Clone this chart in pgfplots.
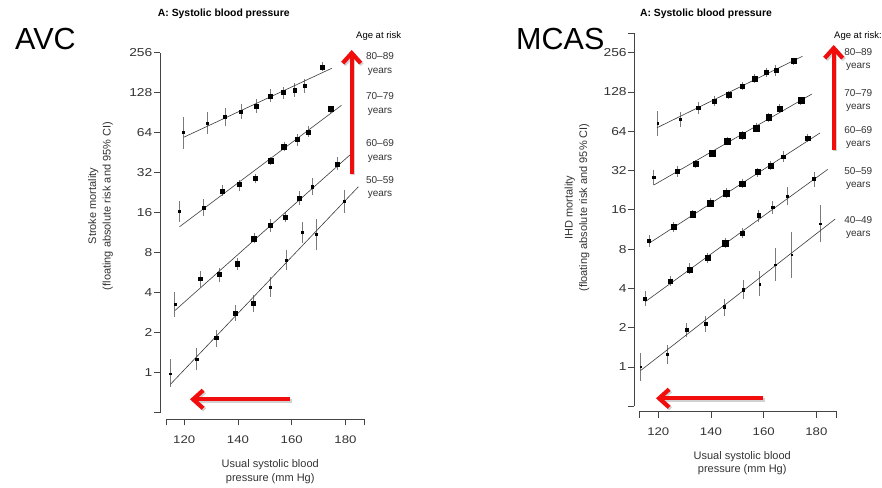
\documentclass[border=0pt]{standalone}
\usepackage{pgfplots}
\pgfplotsset{compat=1.18}
\usepackage{pgfplotstable}
\usepackage{graphicx}
\usepackage{fontspec}
\setmainfont{Liberation Sans}
\usetikzlibrary{arrows.meta}
\definecolor{axgray}{HTML}{444444}
\definecolor{errgray}{HTML}{7A7A7A}
\definecolor{linegray}{HTML}{3A3A3A}
\definecolor{arrred}{HTML}{F20D0D}
\newcommand{\wt}[1]{\scalebox{1.2}[1]{#1}}

% columns: x = usual SBP, y = mortality, lo/hi = 95% CI, s = half side of marker (pt)
\pgfplotstableread{
x y lo hi s
119.8 64 48 84.4 1
128.7 76 62.2 92.1 1
135.2 84.4 72.3 98.7 1.5
141.2 92 80.7 104.7 1.5
146.8 102 90.5 114.2 2
152.1 121 108.4 135.8 2
156.8 128 115.4 141 2
161.0 134 118.6 150.7 1.7
164.9 145 127 163 1.5
171.4 199 186 218 2.2
}\LA
\pgfplotstableread{
x y lo hi s
118.3 16.3 13.5 19.6 1
127.2 17.6 15.1 20.2 1.5
134.1 23.2 21.4 25.7 2
140.4 26.2 23.4 28.2 2.2
146.4 29.2 26.9 31.3 2.2
152.0 39.7 36.5 42.2 2.5
157.2 50.6 46.5 54.8 2.5
162.0 57 51.1 62.6 2.2
166.2 65 59.1 72 2
174.5 96.5 90.5 101.8 2.7
}\LB
\pgfplotstableread{
x y lo hi s
116.5 3.25 2.64 4.03 1
125.9 5.1 4.44 5.8 1.7
133.0 5.5 4.84 6.15 2
139.7 6.6 5.9 7.26 2.2
146.0 10.2 9.4 11.3 2.5
152.0 12.9 11.5 14.3 2.2
157.5 14.8 13.5 16.2 2
162.9 20.7 18.3 23.4 2
167.7 25.1 21.7 29 1.2
177.1 37.4 33.6 41.8 2
}\LC
\pgfplotstableread{
x y lo hi s
114.9 0.98 0.785 1.27 0.8
124.6 1.27 1.05 1.53 1.2
131.9 1.83 1.57 2.1 1.7
139.0 2.81 2.46 3.23 2.2
145.6 3.33 2.85 3.84 1.7
152.0 4.41 3.73 5.28 1.3
157.9 7.05 5.94 8.4 1.2
163.9 11.4 9.4 13.7 1
169.2 11.0 8.4 14.4 0.8
179.5 19.5 16 23.7 0.8
}\LD
\pgfplotstableread{
x y lo hi s
119.8 73.6 58.9 91.5 0.7
128.5 79.4 68.6 90.3 1
135.2 97 86.3 107.8 1.7
141.2 109 99.9 119.2 1.7
146.7 122 112.3 130.8 2.3
151.9 142 132.5 151.7 2.3
156.6 163 150.7 174.8 2.5
160.9 181 167.7 194 2.3
164.6 187 170 206.5 2
171.3 221 208 234 2.5
}\RA
\pgfplotstableread{
x y lo hi s
118.3 28.4 24.8 32.3 1.3
127.2 31.6 28.7 34.7 1.7
134.1 36 33.4 38.6 2.3
140.4 43.4 40.5 45.9 3
146.2 53.8 49.9 58.1 3
151.9 59.6 54.9 64 3
157.1 68 62.7 73.5 3
161.9 81.8 75.6 87.7 2.8
166.1 95 87.7 102.9 2.5
174.1 110 101.8 117.8 3
}\RB
\pgfplotstableread{
x y lo hi s
116.5 9.28 8.28 10.3 1.5
125.8 11.9 10.9 13 2.2
133.1 14.8 13.8 16.1 2.8
139.6 18 16.7 19.6 3
145.8 21.5 19.6 23.4 3
151.8 25.4 23.4 27.4 2.8
157.6 31.2 28.7 33.6 2.5
162.7 35 32.3 37.8 2.2
167.5 41 37.4 45.2 1.8
176.7 56.5 53.3 61 2.3
}\RC
\pgfplotstableread{
x y lo hi s
115.0 3.32 2.93 3.8 1.5
124.6 4.56 4.17 4.98 1.8
131.8 5.6 5.17 6.23 2.5
138.8 6.87 6.3 7.5 2.8
145.4 8.87 8.1 9.68 2.7
151.9 10.6 9.68 11.55 2.2
158.0 14.6 13 16 1.7
163.4 16.7 14.9 18.7 1.2
169.0 20.4 17.4 23.8 1
179.1 27.6 24.1 31.3 1.5
}\RD
\pgfplotstableread{
x y lo hi s
113.3 1.0 0.78 1.27 0.6
123.3 1.25 1.05 1.47 1
130.8 1.92 1.69 2.16 1.5
138.0 2.15 1.87 2.46 1.5
145.1 2.9 2.47 3.3 1.2
152.2 3.91 3.32 4.64 1.2
158.5 4.3 3.48 5.44 0.8
164.4 6.1 4.56 8.1 0.7
170.5 7.3 4.83 10.9 0.5
181.4 12.5 9.1 17.4 0.6
}\RE

\newcommand{\pts}[1]{\addplot[only marks, mark=square*, black, scatter,
    scatter/use mapped color={draw=black,fill=black},
    visualization depends on={\thisrow{s} \as \msz},
    scatter/@pre marker code/.append style={/tikz/mark size=\msz},
    error bars/y dir=both, error bars/y explicit, error bars/error mark=none,
    error bars/error bar style={line width=0.8pt, color=errgray}]
  table[x=x, y=y, y error plus expr=\thisrow{hi}-\thisrow{y}, y error minus expr=\thisrow{y}-\thisrow{lo}] {#1};}
\newcommand{\regl}{\addplot[no markers, color=linegray, line width=0.6pt]}

\begin{document}
\begin{tikzpicture}[x=1pt,y=1pt]
% ---------------- Left panel: stroke ----------------
\begin{axis}[scale only axis, at={(166.7pt,74.3pt)}, anchor=south west, clip=false,
  width=197.6pt, height=360pt,
  xmin=113.5, xmax=187, ymin=0.5, ymax=256,
  ymode=log, log basis y=2,
  axis lines=left, axis line style={-, draw=axgray, line width=0.8pt},
  axis x line shift=6.6pt, axis y line shift=6.7pt,
  tick style={draw=axgray, line width=0.8pt}, tick align=outside,
  major tick length=6pt, yminorticks=false, xminorticks=false,
  yticklabel style={font=\fontsize{11.5}{12}\selectfont, text=black!80, inner sep=1.5pt},
  xticklabel style={font=\fontsize{11}{12}\selectfont, text=black!80, yshift=-7pt},
  xtick={113.5,120,140,160,180,187}, xticklabels={,\wt{120},\wt{140},\wt{160},\wt{180},},
  ytick={0.5,1,2,4,8,16,32,64,128,256}, yticklabels={,\wt{1},\wt{2},\wt{4},\wt{8},\wt{16},\wt{32},\wt{64},\wt{128},\wt{256}}]
\pts{\LA}
\pts{\LB}
\pts{\LC}
\pts{\LD}
\regl coordinates {(119.8,59.1) (174.9,195.4)};
\regl coordinates {(118.3,12.55) (178.5,102.9)};
\regl coordinates {(116.5,2.93) (181.6,43.4)};
\regl coordinates {(114.9,0.818) (184.8,25.1)};
\end{axis}
% ---------------- Right panel: IHD ----------------
\begin{axis}[scale only axis, at={(639.3pt,80.7pt)}, anchor=south west, clip=false,
  width=197.4pt, height=373.2pt,
  xmin=112.8, xmax=187.7, ymin=0.5, ymax=362.04,
  ymode=log, log basis y=2,
  axis lines=left, axis line style={-, draw=axgray, line width=0.8pt},
  axis x line shift=5.4pt, axis y line shift=5pt,
  tick style={draw=axgray, line width=0.8pt}, tick align=outside,
  major tick length=6pt, yminorticks=false, xminorticks=false,
  yticklabel style={font=\fontsize{11.5}{12}\selectfont, text=black!80, inner sep=1.5pt},
  xticklabel style={font=\fontsize{11}{12}\selectfont, text=black!80, yshift=-7pt},
  xtick={112.8,120,140,160,180,187.7}, xticklabels={,\wt{120},\wt{140},\wt{160},\wt{180},},
  ytick={0.5,1,2,4,8,16,32,64,128,256,362.04}, yticklabels={,\wt{1},\wt{2},\wt{4},\wt{8},\wt{16},\wt{32},\wt{64},\wt{128},\wt{256},}]
\pts{\RA}
\pts{\RB}
\pts{\RC}
\pts{\RD}
\pts{\RE}
\regl coordinates {(119.5,68.1) (174.7,240.5)};
\regl coordinates {(118.3,24.8) (178.3,123.6)};
\regl coordinates {(116.5,8.88) (181.4,62.2)};
\regl coordinates {(115,3.16) (184.3,32.7)};
\regl coordinates {(113.3,0.94) (187.1,13.6)};
\end{axis}

% ---------------- Texts ----------------
\node[anchor=base west, font=\fontsize{30.5}{32}\selectfont] at (11.7,437) {AVC};
\node[anchor=base west, font=\fontsize{30.5}{32}\selectfont] at (512.7,437) {MCAS};
\node[font=\bfseries\fontsize{10.4}{12}\selectfont] at (223.8,473.5) {A: Systolic blood pressure};
\node[font=\bfseries\fontsize{10.4}{12}\selectfont] at (706,473) {A: Systolic blood pressure};
\begin{scope}
\clip (340,440) rectangle (400,465);
\node[anchor=west, font=\fontsize{9.5}{11}\selectfont, inner sep=0pt] at (356,451) {Age at risk:};
\end{scope}
\node[anchor=west, font=\fontsize{9.5}{11}\selectfont, inner sep=0pt] at (834,451) {Age at risk:};

\tikzset{agelab/.style={font=\fontsize{10}{13.3}\selectfont, align=center, text=black!80, inner sep=0pt}}
\node[agelab] at (380,423) {80–89\\years};
\node[agelab] at (380,383) {70–79\\years};
\node[agelab] at (380,336) {60–69\\years};
\node[agelab] at (380,299.5) {50–59\\years};
\node[agelab] at (858.3,427.5) {80–89\\years};
\node[agelab] at (858.3,386.7) {70–79\\years};
\node[agelab] at (858.3,349.3) {60–69\\years};
\node[agelab] at (858.3,308.5) {50–59\\years};
\node[agelab] at (858.3,259.8) {40–49\\years};

\node[rotate=90, align=center, font=\fontsize{11}{14.4}\selectfont, text=black!80] at (100.5,281) {Stroke mortality\\(floating absolute risk and 95\% CI)};
\node[rotate=90, align=center, font=\fontsize{11}{14.4}\selectfont, text=black!80] at (577,279.5) {IHD mortality\\(floating absolute risk and 95\% CI)};
\node[align=center, font=\fontsize{11}{13.3}\selectfont, text=black!80] at (270.2,15.4) {Usual systolic blood\\pressure (mm Hg)};
\node[align=center, font=\fontsize{11}{13.3}\selectfont, text=black!80] at (742.2,23.7) {Usual systolic blood\\pressure (mm Hg)};

% ---------------- Red arrows ----------------
\tikzset{redarr/.style={draw=arrred, line width=4.2pt, -{Straight Barb[length=10pt,width=18pt]}},
         shadowarr/.style={draw=black, opacity=0.18, line width=4.2pt, -{Straight Barb[length=10pt,width=18pt]}}}
\draw[shadowarr] (353.2,311.5) -- (353.2,435.5);
\draw[redarr] (351.7,313) -- (351.7,437);
\draw[shadowarr] (291.5,86.2) -- (191.5,86.2);
\draw[redarr] (290,87.7) -- (190,87.7);
\draw[shadowarr] (835.2,335.5) -- (835.2,440.5);
\draw[redarr] (833.7,337) -- (833.7,442);
\draw[shadowarr] (764.8,87.2) -- (657.5,87.2);
\draw[redarr] (763.3,88.7) -- (656,88.7);

\pgfresetboundingbox
\useasboundingbox (0,0) rectangle (882,487);
\end{tikzpicture}
\end{document}
